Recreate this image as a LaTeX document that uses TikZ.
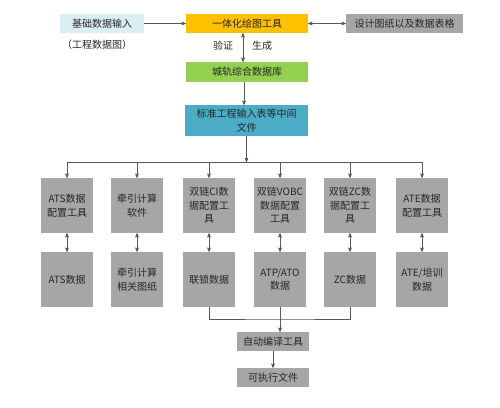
\documentclass[tikz,border=0pt]{standalone}
\usepackage{fontspec}
\setmainfont{Noto Sans CJK SC}
\usetikzlibrary{arrows}
\usetikzlibrary{positioning}
\definecolor{inblue}{HTML}{DAEEF3}
\definecolor{toolorange}{HTML}{FFC000}
\definecolor{dbgreen}{HTML}{92D050}
\definecolor{midteal}{HTML}{4BACC6}
\definecolor{boxgray}{HTML}{A6A6A6}
\definecolor{linegray}{HTML}{595959}
\definecolor{txt}{HTML}{262626}
\tikzstyle{box}=[inner sep=0pt,align=center,text=txt,font=\fontsize{10}{13.5}\selectfont]
\tikzstyle{wide}=[box,minimum width=122,minimum height=19]
\tikzstyle{cell}=[box,fill=boxgray,minimum width=52,minimum height=55]
\tikzstyle{lbl}=[inner sep=0pt,text=txt,font=\fontsize{10}{12}\selectfont]
\tikzstyle{arr}=[->,>=stealth',draw=linegray,semithick]
\tikzstyle{ln}=[draw=linegray,semithick]

\begin{document}
\begin{tikzpicture}[x=1pt,y=-1pt]
        \useasboundingbox (0,0) rectangle (500,407);
        \node[box,fill=inblue,minimum width=84,minimum height=19] (input) at (102,23.5) {基础数据输入};
        \node[lbl] (inputsub) at (97,45) {（工程数据图）};
        \node[wide,fill=toolorange] (tool) at (247,23.5) {一体化绘图工具};
        \node[box,fill=boxgray,minimum width=117,minimum height=19] (design) at (404.5,23.5) {设计图纸以及数据表格};
        \node[wide,fill=dbgreen,minimum height=20] (db) at (247,72) {城轨综合数据库};
        \node[lbl] (check) at (223,46) {验证};
        \node[lbl] (gen) at (262,46) {生成};
        \node[wide,fill=midteal,minimum width=123,minimum height=31] (mid) at (246.5,120.5) {标准工程输入表等中间\\文件};
        \coordinate (bus) at (246.5,162);
        \node[cell] (cfg1) at (67,205.5) {ATS数据\\配置工具};
        \node[cell] (cfg2) at (137,205.5) {牵引计算\\软件};
        \node[cell] (cfg3) at (209,205.5) {双链CI数\\据配置工\\具};
        \node[cell] (cfg4) at (280,205.5) {双链VOBC\\数据配置\\工具};
        \node[cell] (cfg5) at (350,205.5) {双链ZC数\\据配置工\\具};
        \node[cell] (cfg6) at (422,205.5) {ATE数据\\配置工具};
        \node[cell] (dat1) at (67,279.5) {ATS数据};
        \node[cell] (dat2) at (137,279.5) {牵引计算\\相关图纸};
        \node[cell] (dat3) at (209,279.5) {联锁数据};
        \node[cell] (dat4) at (280,279.5) {ATP/ATO\\数据};
        \node[cell] (dat5) at (350,279.5) {ZC数据};
        \node[cell] (dat6) at (422,279.5) {ATE/培训\\数据};
        \coordinate (join) at (280,319);
        \node[box,fill=boxgray,minimum width=72,minimum height=19] (comp) at (273,341.5) {自动编译工具};
        \node[box,fill=boxgray,minimum width=72,minimum height=19] (exe) at (273,377.5) {可执行文件};
        \draw[arr] (input) -- (tool);
        \draw[arr,<->] (tool) -- (design);
        \draw[arr,<->] (tool.south -| 243,0) -- (db.north -| 243,0);
        \draw[arr] (db.south -| 244,0) -- (mid.north -| 244,0);
        \draw[arr] (mid) -- (bus);
        \draw[ln] (cfg1 |- bus) -- (cfg6 |- bus);
        \draw[arr] (cfg1 |- bus) -- (cfg1);
        \draw[arr] (cfg2 |- bus) -- (cfg2);
        \draw[arr] (cfg3 |- bus) -- (cfg3);
        \draw[arr] (cfg4 |- bus) -- (cfg4);
        \draw[arr] (cfg5 |- bus) -- (cfg5);
        \draw[arr] (cfg6 |- bus) -- (cfg6);
        \draw[arr,<->] (cfg1) -- (dat1);
        \draw[arr,<->] (cfg2) -- (dat2);
        \draw[arr,<->] (cfg3) -- (dat3);
        \draw[arr,<->] (cfg4) -- (dat4);
        \draw[arr,<->] (cfg5) -- (dat5);
        \draw[arr,<->] (cfg6) -- (dat6);
        \draw[ln] (dat3) |- (join) -| (dat5);
        \draw[ln] (dat4) -- (join);
        \draw[arr] (join) -- (join |- comp.north);
        \draw[arr] (comp) -- (exe);
      \end{tikzpicture}
\end{document}
